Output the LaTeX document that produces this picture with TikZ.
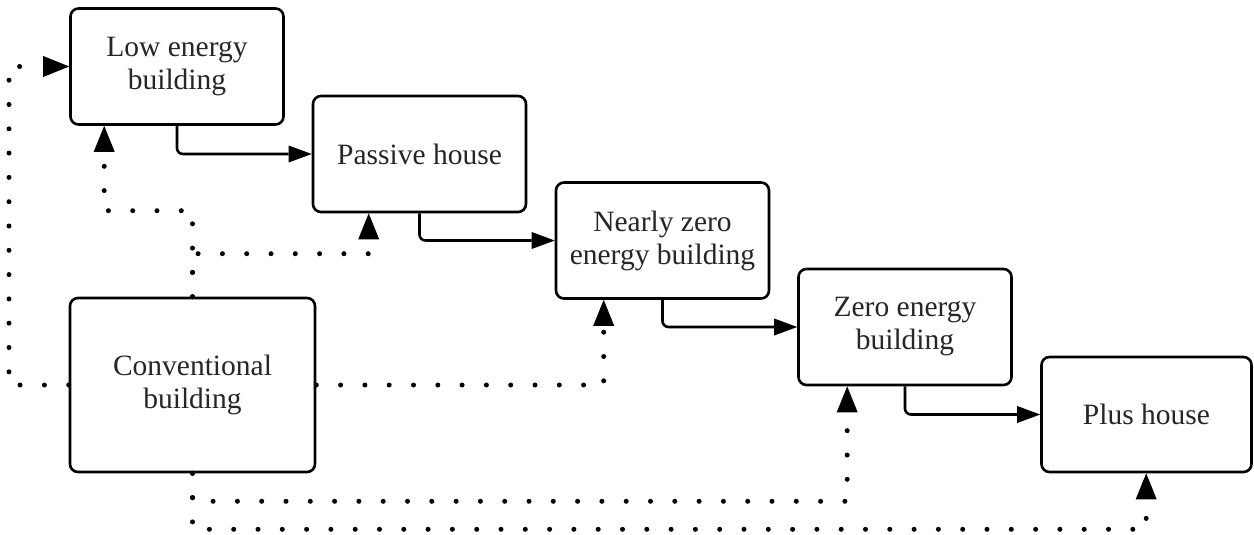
\documentclass[tikz,border=0pt]{standalone}
\usepackage{fontspec}
\setmainfont{Liberation Serif}
\usetikzlibrary{arrows.meta,calc}
\begin{document}
\begin{tikzpicture}[x=1pt,y=-1pt,
  stage/.style={draw, line width=2.6pt, rounded corners=8pt, fill=white,
    minimum width=213pt, minimum height=116pt, inner sep=0pt,
    align=center, text=black!85, font=\fontsize{29.5}{33}\selectfont},
  flow/.style={line width=2.6pt, rounded corners=6pt,
    -{Triangle[length=23pt,width=17pt,line width=0pt]}},
  route/.style={line width=5pt, line cap=round, dash pattern=on 0pt off 24.3pt,
    -{Triangle[length=26pt,width=21pt,line width=0pt]}}]
\useasboundingbox (0,0) rectangle (1254,535);

% stages of the building standard
\node[stage] (low)  at (177,66.5)    {Low energy\\building};
\node[stage] (pass) at (419.5,154)   {Passive house};
\node[stage] (nzeb) at (662.5,240.5) {Nearly zero\\energy building};
\node[stage] (zeb)  at (905,327)     {Zero energy\\building};
\node[stage, minimum width=210pt, minimum height=115pt] (plus) at (1146.5,414.5) {Plus house};
\node[stage, minimum width=245pt, minimum height=174pt] (conv) at (192.5,385) {Conventional\\building};

% entry points of the dotted routes
\coordinate (lowin)  at ($(low.south west)+(35,0)$);
\coordinate (passin) at ($(pass.south west)+(57,0)$);
\coordinate (nzebin) at ($(nzeb.south west)+(49,0)$);
\coordinate (zebin)  at ($(zeb.south west)+(50,0)$);
\coordinate (plusin) at ($(plus.south west)+(106,0)$);
\coordinate (lefttop) at (9,66.5);

% progression between stages
\draw[flow] (low.south)  |- (pass.west);
\draw[flow] (pass.south) |- (nzeb.west);
\draw[flow] (nzeb.south) |- (zeb.west);
\draw[flow] (zeb.south)  |- (plus.west);

% routes from the conventional building
\draw[route] (conv.west) -| (lefttop) -- (low.west);
\draw[route] (conv.north) -- ++(0,-86) -| (lowin);
\draw[route] (conv.north) -- ++(0,-43) -| (passin);
\draw[route] (conv.east) -| (nzebin);
\draw[route] (conv.south) -- ++(0,28) -| (zebin);
\draw[route] (conv.south) -- ++(0,56) -| (plusin);
\end{tikzpicture}
\end{document}
